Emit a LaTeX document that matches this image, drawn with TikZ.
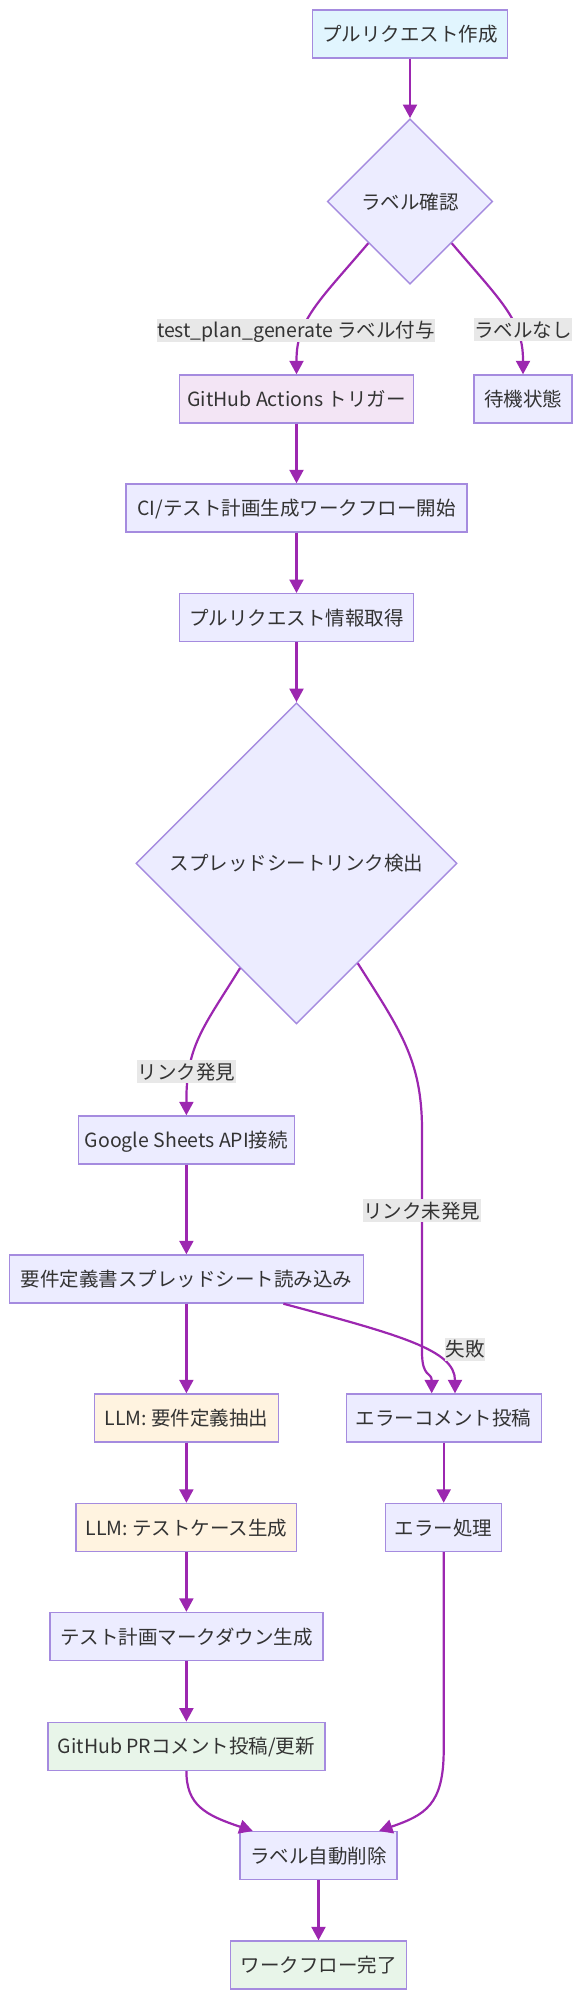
\documentclass[tikz,border=0pt]{standalone}
\usepackage{fontspec}
\setmainfont{Noto Sans CJK JP}
\usetikzlibrary{arrows.meta,shapes.geometric,calc}
\definecolor{nodefill}{HTML}{ECECFF}
\definecolor{nodedraw}{HTML}{A58BDF}
\definecolor{edgecol}{HTML}{9C27B0}
\definecolor{labelbg}{HTML}{E8E8E8}
\definecolor{txt}{HTML}{333333}
\definecolor{blueone}{HTML}{E1F5FE}
\definecolor{purpone}{HTML}{F3E5F5}
\definecolor{orngone}{HTML}{FFF3E0}
\definecolor{grnone}{HTML}{E8F5E9}
\begin{document}
\begin{tikzpicture}[x=1pt,y=-1pt,
  every node/.style={font=\fontsize{19.5}{23}\selectfont, text=txt},
  box/.style={draw=nodedraw, line width=1.4pt, fill=nodefill, minimum height=48pt, minimum width=#1, inner sep=0pt, text height=18pt, text depth=3pt},
  dia/.style={draw=nodedraw, line width=1.4pt, fill=nodefill, shape=diamond, aspect=1, inner sep=0pt, minimum width=#1, minimum height=#1, text height=18pt, text depth=3pt},
  conn/.style={draw=edgecol, line width=2.2pt, -{Triangle[length=13.5pt,width=14pt]}},
  elabel/.style={fill=labelbg, inner xsep=0.5pt, inner ysep=1pt, text height=18pt, text depth=3pt}
]
\useasboundingbox (0,0) rectangle (582,1999);

% nodes
\node[box=195pt, fill=blueone] (pr) at (410,34) {プルリクエスト作成};
\node[dia=165.5pt] (q1) at (410,201.5) {ラベル確認};
\node[box=234pt, fill=purpone] (gha) at (296.5,399) {GitHub Actions トリガー};
\node[box=98pt] (wait) at (523,399) {待機状態};
\node[box=341pt] (ci) at (296.5,508) {CI/テスト計画生成ワークフロー開始};
\node[box=234pt] (info) at (296.5,617.7) {プルリクエスト情報取得};
\node[dia=321pt] (q2) at (296.5,863.3) {スプレッドシートリンク検出};
\node[box=216pt] (gs) at (186.4,1140) {Google Sheets API接続};
\node[box=354pt] (read) at (186.4,1279) {要件定義書スプレッドシート読み込み};
\node[box=184pt, fill=orngone] (llmone) at (186.4,1418) {LLM: 要件定義抽出};
\node[box=195pt] (err) at (443.7,1418) {エラーコメント投稿};
\node[box=220.5pt, fill=orngone] (llmtwo) at (186.4,1527.5) {LLM: テストケース生成};
\node[box=116pt] (errh) at (443.7,1527.5) {エラー処理};
\node[box=273pt] (md) at (186.4,1636.5) {テスト計画マークダウン生成};
\node[box=277pt, fill=grnone] (ghpr) at (186.4,1746.3) {GitHub PRコメント投稿/更新};
\node[box=157pt] (rm) at (318.5,1855.7) {ラベル自動削除};
\node[box=176pt, fill=grnone] (done) at (318.5,1965) {ワークフロー完了};

% connectors
\draw[conn] (pr.south) -- (q1.north);
\draw[conn] (q1.south west) .. controls (320,300) and (296.5,320) .. (296.5,360) -- (gha.north);
\draw[conn] (q1.south east) .. controls (500,300) and (523,320) .. (523,360) -- (wait.north);
\draw[conn] (gha.south) -- (ci.north);
\draw[conn] (ci.south) -- (info.north);
\draw[conn] (info.south) -- (q2.north);
\draw[conn] ($(q2.south)!0.35!(q2.west)$) .. controls (205,1025) and (186.4,1045) .. (186.4,1100) -- (gs.north);
\draw[conn] ($(q2.south)!0.38!(q2.east)$) .. controls (400,1030) and (422,1060) .. (422,1130) -- (422,1352) .. controls (422,1378) and (431.7,1372) .. ([xshift=-12pt]err.north);
\draw[conn] (gs.south) -- (read.north);
\draw[conn] ([xshift=97pt]read.south) .. controls (400,1335) and (455,1350) .. ([xshift=11.3pt]err.north);
\draw[conn] (read.south) -- (llmone.north);
\draw[conn] (llmone.south) -- (llmtwo.north);
\draw[conn] (llmtwo.south) -- (md.north);
\draw[conn] (md.south) -- (ghpr.north);
\draw[conn] (err.south) -- (errh.north);
\draw[conn] (ghpr.south) .. controls (186.4,1805) and (205,1815) .. ([xshift=-65.7pt]rm.north);
\draw[conn] (errh.south) -- (443.7,1750) .. controls (443.7,1805) and (425,1815) .. ([xshift=60.5pt]rm.north);
\draw[conn] (rm.south) -- (done.north);

% edge labels
\node[elabel] (lone) at (296,330) {test\_plan\_generate ラベル付与};
\node[elabel] (ltwo) at (523,329.5) {ラベルなし};
\node[elabel] (lthree) at (186.4,1071.5) {リンク発見};
\node[elabel] (lfour) at (421.6,1210.5) {リンク未発見};
\node[elabel] (lfive) at (465.3,1349) {失敗};
\end{tikzpicture}
\end{document}
